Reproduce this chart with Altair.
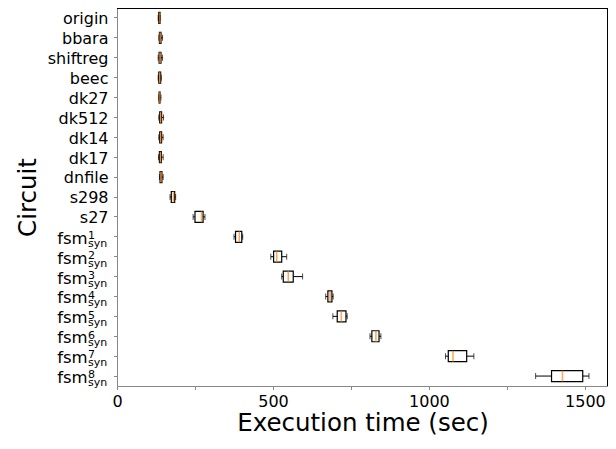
import altair as alt
import pandas as pd

categories = ["origin", "bbara", "shiftreg", "beec", "dk27", "dk512", "dk14", "dk17", "dnfile",
              "s298", "s27", "fsm1", "fsm2", "fsm3", "fsm4", "fsm5", "fsm6", "fsm7", "fsm8"]
whisker_lo = [132, 134, 132, 132, 134, 134, 134, 133, 136, 170, 244, 375, 493, 528, 669, 692, 811, 1053, 1342]
q1 =         [134, 136, 135, 134, 135, 137, 137, 136, 138, 174, 250, 380, 502, 533, 676, 706, 817, 1062, 1393]
median =     [137, 138, 138, 137, 137, 140, 140, 139, 141, 181, 271, 392, 512, 549, 683, 719, 830, 1077, 1428]
q3 =         [138, 141, 141, 140, 138, 143, 143, 142, 144, 185, 276, 400, 528, 565, 689, 734, 840, 1121, 1493]
whisker_hi = [139, 146, 146, 142, 141, 149, 148, 148, 148, 188, 282, 403, 544, 595, 693, 738, 846, 1144, 1513]
fsm_sup = ["", "", "", "", "", "", "", "", "", "", "", "1", "2", "3", "4", "5", "6", "7", "8"]

df = pd.DataFrame({"cat": categories, "lo": whisker_lo, "q1": q1, "med": median,
                   "q3": q3, "hi": whisker_hi, "sup": fsm_sup})

FONT = "DejaVu Sans"
W, H = 491, 378
xscale = alt.Scale(domain=[0, 1574], nice=False, zero=False)
yscale = alt.Scale(type="band", paddingInner=0, paddingOuter=0)

xenc = alt.X("lo:Q", scale=xscale,
             axis=alt.Axis(title="Execution time (sec)", values=[0, 250, 500, 750, 1000, 1250, 1500],
                           labelExpr="datum.value % 500 == 0 ? format(datum.value, 'd') : ''",
                           grid=False, tickSize=3.5, labelFontSize=16, labelPadding=16.5,
                           labelBaseline="alphabetic",
                           titleFontSize=24.5, titleFontWeight="normal",
                           titleBaseline="alphabetic", titleY=44, labelFlush=False))
yenc = alt.Y("cat:N", sort=categories, scale=yscale,
             axis=alt.Axis(title="Circuit", grid=False, tickSize=3.5, labelFontSize=16,
                           labelPadding=5.5, labelBaseline="alphabetic", labelOffset=6.3,
                           labelExpr="indexof(datum.value, 'fsm') == 0 ? '' : datum.value",
                           titleFontSize=24.5, titleFontWeight="normal",
                           titleBaseline="alphabetic", titleX=-82, titleAngle=-90))

base = alt.Chart(df)
ycat = alt.Y("cat:N", sort=categories, scale=yscale)

whisk = base.mark_rule(color="black", strokeWidth=1).encode(x=xenc, x2="hi:Q", y=yenc)
box = base.mark_bar(size=11, fill="white", stroke="black", strokeWidth=1.2).encode(
    x=alt.X("q1:Q", scale=xscale), x2="q3:Q", y=ycat)
cap_lo = base.mark_tick(size=6, thickness=1, color="black").encode(
    x=alt.X("lo:Q", scale=xscale), y=ycat)
cap_hi = base.mark_tick(size=6, thickness=1, color="black").encode(
    x=alt.X("hi:Q", scale=xscale), y=ycat)
med = base.mark_tick(size=11, thickness=1.5, color="#ff7f0e").encode(
    x=alt.X("med:Q", scale=xscale), y=ycat)

fsm = base.transform_filter("indexof(datum.cat, 'fsm') == 0")
lab_main = fsm.mark_text(text="fsm", align="right", baseline="alphabetic", dy=7,
                         fontSize=16.5, font=FONT, color="black").encode(y=ycat, x=alt.value(-29.3))
lab_sup = fsm.mark_text(align="left", baseline="alphabetic", dy=2.3,
                        fontSize=11, font=FONT, color="black").encode(y=ycat, x=alt.value(-29), text="sup:N")
lab_sub = fsm.mark_text(text="syn", align="left", baseline="alphabetic", dy=10,
                        fontSize=11, font=FONT, color="black").encode(y=ycat, x=alt.value(-29))

spine = alt.Chart(pd.DataFrame({"k": [0]}))
top_spine = spine.mark_rule(color="black", strokeWidth=1).encode(
    x=alt.value(0), x2=alt.value(W), y=alt.value(0.5))
right_spine = spine.mark_rule(color="black", strokeWidth=1).encode(
    x=alt.value(W - 0.5), y=alt.value(0), y2=alt.value(H))

chart = alt.layer(whisk, box, cap_lo, cap_hi, med, lab_main, lab_sup, lab_sub,
                  top_spine, right_spine).properties(
    width=W, height=H,
    autosize=alt.AutoSizeParams(type="none"),
    padding={"left": 109, "top": 0, "right": 0, "bottom": 49},
).configure_view(stroke=None).configure_axis(
    domainColor="black", tickColor="black", labelColor="black", titleColor="black",
    labelFont=FONT, titleFont=FONT, domainWidth=1
).configure(font=FONT)

chart.save("out.html", embed_options={"renderer": "svg", "actions": False})
